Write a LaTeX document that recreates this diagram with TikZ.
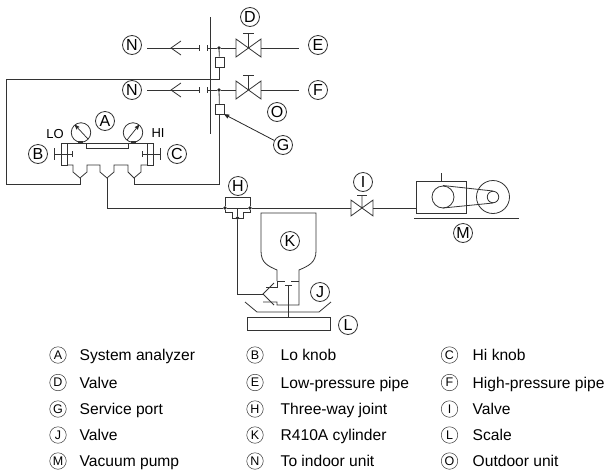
\documentclass[tikz,border=0pt]{standalone}
\usepackage{fontspec}
\setmainfont{Liberation Sans}
\usetikzlibrary{arrows,positioning}
\begin{document}
\begin{tikzpicture}[%
    x=1pt, y=-1pt,              % Positions read off in pixels, y going down
    >=stealth',
    line join=miter,
    ]
% -------------------------------------------------
% Styles
\tikzset{
  base/.style={draw=black!80, line width=0.8pt},
  letter/.style={base, circle, inner sep=0pt, minimum size=19pt, font=\fontsize{16}{16}\selectfont},
  keym/.style={base, line width=0.5pt, circle, inner sep=0pt, minimum size=16.5pt, font=\fontsize{12.5}{12.5}\selectfont},
  word/.style 2 args={right=#2 of #1, inner sep=0pt, text height=11pt, text depth=0pt, font=\fontsize{15.6}{16}\selectfont},
  tag/.style={inner sep=0pt, font=\fontsize{13}{13}\selectfont},
  pipe/.style={base},
  dot/.style={circle, fill=black!85, inner sep=0pt, minimum size=3.6pt},
  port/.style={base, fill=white, inner sep=0pt, minimum width=9pt, minimum height=10pt},
  gauge/.style={base, circle, fill=white, inner sep=0pt, minimum size=19.5pt},
  wheel/.style={base, circle, inner sep=0pt},
  box/.style={base, rectangle, inner sep=0pt},
  valve/.pic={
    \draw[pipe] (0,0) -- (-#1,-#1*0.72) -- (-#1,#1*0.72) -- (#1,-#1*0.72) -- (#1,#1*0.72) -- (-0,0) -- (0,-#1*1.15);
    \draw[pipe] (-#1*0.42,-#1*1.15) -- (#1*0.42,-#1*1.15);
    \coordinate (-l) at (-#1,0);
    \coordinate (-r) at (#1,0);
  },
}
\useasboundingbox (0,0) rectangle (607,472);
% -------------------------------------------------
% Outdoor unit wall, valves and service ports
\draw[pipe] (210.5,17) -- (210.5,134);
\pic (vD) at (248.5,48) {valve=12.5};
\pic (vF) at (248.5,90) {valve=12.5};
\node [dot] (dD) at (219,48) {};
\node [dot] (dF) at (219,90) {};
\node [port] (pD) at (219.5,62) {};
\node [port] (pF) at (219.5,109) {};
\coordinate (eN) at (147,48);
\coordinate (eE) at (299,48);
\coordinate (eN2) at (147,90);
\coordinate (eF) at (299,90);
\coordinate (fl) at (199.5,48);
\coordinate (fr) at (207,48);
\coordinate (fl2) at (199.5,90);
\coordinate (fr2) at (207,90);
\draw[pipe] (eN) -- (fl) (fl |- 0,45) -- (fl |- 0,51) (fr |- 0,45) -- (fr |- 0,51);
\draw[pipe] (fr) -- (dD) -- (vD-l) (vD-r) -- (eE);
\draw[pipe] (eN2) -- (fl2) (fl2 |- 0,87) -- (fl2 |- 0,93) (fr2 |- 0,87) -- (fr2 |- 0,93);
\draw[pipe] (fr2) -- (dF) -- (vF-l) (vF-r) -- (eF);
\draw[pipe] (181,41) -- (171,48) -- (181,55);
\draw[pipe] (181,83) -- (171,90) -- (181,97);
\draw[pipe] (dD) -- (pD);
\draw[pipe] (dF) -- (pF);
% -------------------------------------------------
% System analyzer
\draw[pipe] (61,143.5) rectangle (67,165);
\draw[pipe] (147,143.5) rectangle (153,165);
\draw[pipe] (67,143.5) -- (147,143.5);
\draw[pipe] (86,143.5) rectangle (128,148);
\coordinate (yL) at (80,178);
\coordinate (yM) at (107,178);
\coordinate (yR) at (134,178);
\draw[pipe] (67,165) -- (73,165) -- (73,172) -- (yL) -- (87,172) -- (87,165) -- (100,165)
  -- (100,172) -- (yM) -- (114,172) -- (114,165) -- (128,165) -- (128,172) -- (yR)
  -- (141,172) -- (141,165) -- (147,165);
\node [gauge] (gL) at (81,132.5) {};
\node [gauge] (gH) at (133,132.5) {};
\draw[pipe, line width=2pt] (78,142) -- (83,142) (131,142) -- (136,142);
\draw[->, black!85, line width=0.7pt] (88,139) -- (75,125);
\draw[->, black!85, line width=0.7pt] (127,140) -- (139,125);
\draw[pipe] (54.5,148) -- (54.5,160) (54.5,154) -- (72,154) (72,151) -- (72,157);
\draw[pipe] (160,148) -- (160,160) (160,154) -- (142.5,154) (142.5,151) -- (142.5,157);
% Hoses from the manifold to the service ports
\draw[pipe] (pD) -- (219.5,79) -- (6,79) -- (6,184) -- (80,184) -- (yL);
\draw[pipe] (pF) -- (219.5,184) -- (134,184) -- (yR);
% -------------------------------------------------
% Three-way joint, main line, valve to the pump
\pic (vI) at (362,208) {valve=11};
\node [dot] (dHl) at (225,208) {};
\node [dot] (dHr) at (250,208) {};
\node [dot] (dHb) at (237.5,218) {};
\node [box, minimum width=50pt, minimum height=32pt] (pump) at (441,197) {};
\draw[pipe] (yM) -- (107,208) -- (dHl) -- (dHr) -- (vI-l);
\draw[pipe] (vI-r) -- (pump.west |- vI-r);
\draw[pipe] (dHl) -- (225,197) -- (250,197) -- (dHr);
\draw[pipe] (dHl) -- (225,212) -- (232,212) -- (232,218) -- (243,218) -- (243,212) -- (250,212) -- (dHr);
\draw[pipe] (237.5,208) -- (dHb);
% -------------------------------------------------
% Vacuum pump
\node [wheel, minimum size=22pt] (wA) at (443,197) {};
\node [wheel, minimum size=33pt] (wB) at (493,197) {};
\node [wheel, minimum size=11.5pt] (wC) at (493,197) {};
\draw[pipe] (441,173) -- (pump.north -| 441,0);
\draw[pipe] (443,185.5) -- (493,191);
\draw[pipe] (443,208) -- (493,203);
\draw[pipe] (414,218) -- (519,218);
% -------------------------------------------------
% R410A cylinder, its valve and the scale
\node [box, minimum width=83pt, minimum height=13pt] (scale) at (288.5,323.5) {};
\draw[pipe] (277,281) -- (277,270) .. controls (268,266) and (261,263) .. (261,251) -- (261,213)
  -- (316,213) -- (316,251) .. controls (316,263) and (308,266) .. (299,270) -- (299,305) -- (277,305) -- (277,302) -- (263,302);
\draw[pipe] (277,281) -- (277,287) -- (266,287);
\draw[pipe] (277,281) -- (285,281) (291,281) -- (299,281);
\draw[pipe] (285,285) -- (292,285) (288.5,285) -- (scale.north -| 288.5,0);
\draw[pipe] (274,283) -- (263,294) -- (274,305);
\draw[pipe] (dHb) -- (237.5,294) -- (263,294);
\draw[pipe] (245,302) -- (257,312) -- (319,312) -- (331,302);
% -------------------------------------------------
% Arrow to the service port
\node [letter] (mG) at (283,145) {G};
\draw[->, black!85, line width=0.8pt] (mG) -- (pF.south east);
% Letters on the drawing
\node [letter] (mA) at (105,121) {A};
\node [letter] (mB) at (38,154) {B};
\node [letter] (mC) at (177,154) {C};
\node [letter] (mD) at (250,17) {D};
\node [letter] (mE) at (318,45) {E};
\node [letter] (mF) at (318,90) {F};
\node [letter] (mH) at (238,186) {H};
\node [letter] (mI) at (363,182) {I};
\node [letter] (mJ) at (320,292) {J};
\node [letter] (mK) at (290,241) {K};
\node [letter] (mL) at (348,325) {L};
\node [letter] (mM) at (463,233) {M};
\node [letter] (mN) at (132,45) {N};
\node [letter] (mNb) at (132,90) {N};
\node [letter] (mO) at (277,112) {O};
\node [tag] (lo) at (55,134) {LO};
\node [tag] (hi) at (158,133) {HI};
% -------------------------------------------------
% Key
\node [keym] (kA) at (58,355) {A};
\node [word={kA}{13pt}] {System analyzer};
\node [keym] (kB) at (255,355) {B};
\node [word={kB}{17pt}] {Lo knob};
\node [keym] (kC) at (449.5,355) {C};
\node [word={kC}{14.5pt}] {Hi knob};
\node [keym] (kD) at (58,382.5) {D};
\node [word={kD}{13pt}] {Valve};
\node [keym] (kE) at (255,382.5) {E};
\node [word={kE}{17pt}] {Low-pressure pipe};
\node [keym] (kF) at (449.5,382.5) {F};
\node [word={kF}{14.5pt}] {High-pressure pipe};
\node [keym] (kG) at (58,409) {G};
\node [word={kG}{13pt}] {Service port};
\node [keym] (kH) at (255,409) {H};
\node [word={kH}{17pt}] {Three-way joint};
\node [keym] (kI) at (449.5,409) {I};
\node [word={kI}{14.5pt}] {Valve};
\node [keym] (kJ) at (58,435) {J};
\node [word={kJ}{13pt}] {Valve};
\node [keym] (kK) at (255,435) {K};
\node [word={kK}{17pt}] {R410A cylinder};
\node [keym] (kL) at (449.5,435) {L};
\node [word={kL}{14.5pt}] {Scale};
\node [keym] (kM) at (58,461) {M};
\node [word={kM}{13pt}] {Vacuum pump};
\node [keym] (kN) at (255,461) {N};
\node [word={kN}{17pt}] {To indoor unit};
\node [keym] (kO) at (449.5,461) {O};
\node [word={kO}{14.5pt}] {Outdoor unit};
% -------------------------------------------------
\end{tikzpicture}
\end{document}
